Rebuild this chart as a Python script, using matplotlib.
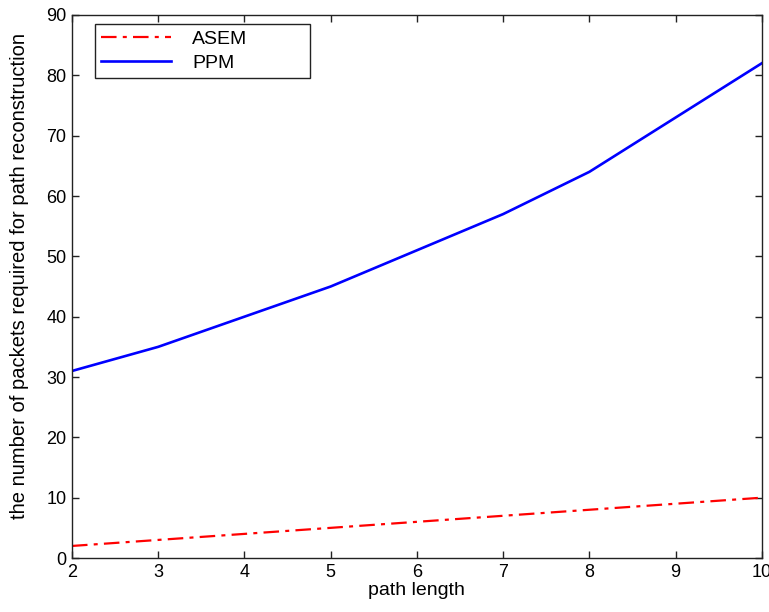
import matplotlib.pyplot as plt
import numpy as np

# path length vs packets needed
path_len = np.array([2, 3, 4, 5, 6, 7, 8, 9, 10])
asem = np.array([2, 3, 4, 5, 6, 7, 8, 9, 10])
ppm = np.array([31, 35, 40, 45, 51, 57, 64, 73, 82])

plt.rcParams['font.family'] = ['Liberation Sans', 'DejaVu Sans']
plt.rcParams['font.size'] = 13

fig = plt.figure(figsize=(7.69, 6.12), dpi=100)
ax = fig.add_axes([0.0936, 0.0882, 0.897, 0.8873])

ax.plot(path_len, asem, color='red', linewidth=1.6, linestyle=(0, (7, 2.8, 1.8, 2.8)), label='ASEM')
ax.plot(path_len, ppm, color='blue', linewidth=1.9, label='PPM')

ax.set_xlim(2, 10)
ax.set_ylim(0, 90)
ax.set_xticks(range(2, 11))
ax.set_yticks(range(0, 91, 10))
ax.tick_params(direction='in', top=True, right=True, length=5, width=1, colors='#222222', labelcolor='black', pad=4)
for s in ax.spines.values():
    s.set_color('#222222')
    s.set_linewidth(1)

ax.set_xlabel('path length', fontsize=14, labelpad=1)
ax.set_ylabel('the number of packets required for path reconstruction', fontsize=14.5)
ax.yaxis.set_label_coords(-0.063, 0.52)

leg = ax.legend(loc='upper left', bbox_to_anchor=(0.0333, 0.0, 0.312, 0.983), mode='expand',
                fancybox=False, framealpha=1, fontsize=14,
                edgecolor='#222222', handlelength=3.6, borderpad=0.3, labelspacing=0.35,
                handletextpad=1.1, borderaxespad=0)
leg.get_frame().set_linewidth(1)

plt.savefig('out.png', dpi=100)
